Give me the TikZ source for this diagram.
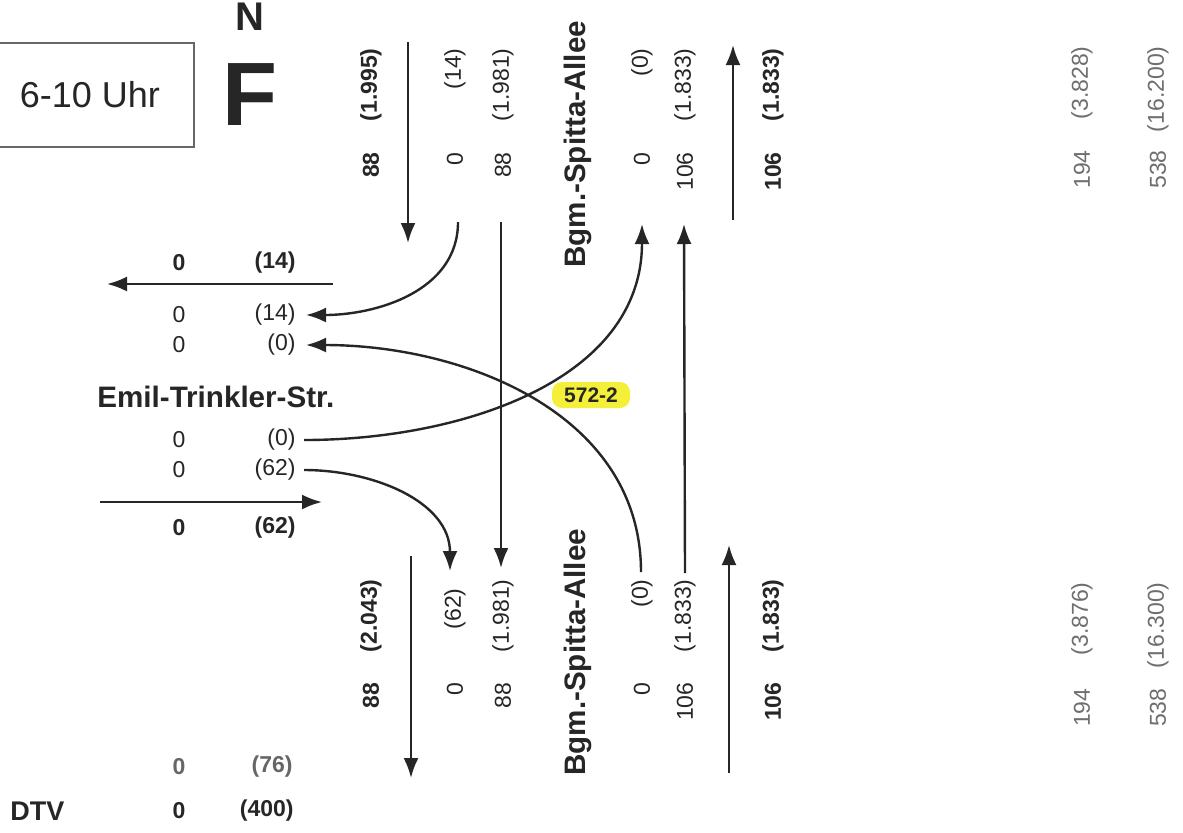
\documentclass[tikz,border=0pt]{standalone}
\usepackage{fontspec}
\setmainfont{Liberation Sans}
\usepackage{tikz}
\usepackage{xcolor}
\usetikzlibrary{arrows.meta}
\definecolor{ink}{HTML}{262626}
\definecolor{faint}{HTML}{6E6E6E}
\definecolor{marker}{HTML}{F4F03A}
\tikzset{num/.style={inner sep=0pt, text=ink, font=\fontsize{11.5}{13}\selectfont}}
\tikzset{numb/.style={inner sep=0pt, text=ink, font=\fontsize{11.5}{13}\selectfont\bfseries}}
\tikzset{pale/.style={inner sep=0pt, text=faint, font=\fontsize{11.5}{13}\selectfont}}
\tikzset{upw/.style={rotate=90, anchor=east}}
\tikzset{street/.style={inner sep=0pt, text=ink, font=\fontsize{14.8}{17}\selectfont\bfseries}}
\tikzset{flow/.style={draw=ink, line width=1.2pt, -{Latex[length=10pt,width=7.5pt]}}}

\begin{document}
\begin{tikzpicture}[x=0.5pt, y=-0.5pt]
                                \useasboundingbox (0,0) rectangle (1183,832);
                                \fill[white] (0,0) rectangle (1183,832);
                                \node[draw=ink!70, line width=0.7pt, minimum width=98pt, minimum height=52pt, inner sep=0pt, text=ink, font=\fontsize{18}{21}\selectfont] (zeit) at (96,95) {\hspace*{-6pt}6-10 Uhr};
                                \node[inner sep=0pt, text=ink, font=\fontsize{20}{24}\selectfont\bfseries] (nord) at (250,17) {N};
                                \node[inner sep=0pt, text=ink, font=\fontsize{45}{50}\selectfont\bfseries] (knoten) at (250,95) {F};
                                \node[numb, upw] (t1n) at (371,152) {88};
                                \node[numb, upw] (t1p) at (371,48) {(1.995)};
                                \node[num, upw] (t2n) at (455,152) {0};
                                \node[num, upw] (t2p) at (455,48) {(14)};
                                \node[num, upw] (t3n) at (503,152) {88};
                                \node[num, upw] (t3p) at (503,48) {(1.981)};
                                \node[num, upw] (t4n) at (642,152) {0};
                                \node[num, upw] (t4p) at (642,48) {(0)};
                                \node[num, upw] (t5n) at (685,152) {106};
                                \node[num, upw] (t5p) at (685,48) {(1.833)};
                                \node[numb, upw] (t6n) at (773,152) {106};
                                \node[numb, upw] (t6p) at (773,48) {(1.833)};
                                \node[street, rotate=90, anchor=west] (bgmn) at (578,268) {Bgm.-Spitta-Allee};
                                \node[numb, upw] (b1n) at (371,682) {88};
                                \node[numb, upw] (b1p) at (371,579) {(2.043)};
                                \node[num, upw] (b2n) at (455,682) {0};
                                \node[num, upw] (b2p) at (455,588) {(62)};
                                \node[num, upw] (b3n) at (503,682) {88};
                                \node[num, upw] (b3p) at (503,579) {(1.981)};
                                \node[num, upw] (b4n) at (642,682) {0};
                                \node[num, upw] (b4p) at (642,579) {(0)};
                                \node[num, upw] (b5n) at (685,682) {106};
                                \node[num, upw] (b5p) at (685,579) {(1.833)};
                                \node[numb, upw] (b6n) at (773,682) {106};
                                \node[numb, upw] (b6p) at (773,579) {(1.833)};
                                \node[street, rotate=90, anchor=west] (bgms) at (578,776) {Bgm.-Spitta-Allee};
                                \node[numb] (l1n) at (179,263) {0};
                                \node[numb, anchor=east] (l1p) at (296,263) {(14)};
                                \node[num] (l2n) at (179,315) {0};
                                \node[num, anchor=east] (l2p) at (296,315) {(14)};
                                \node[num] (l3n) at (179,345) {0};
                                \node[num, anchor=east] (l3p) at (296,345) {(0)};
                                \node[street, anchor=west] (emil) at (97,397) {Emil-Trinkler-Str.};
                                \node[num] (l4n) at (179,440) {0};
                                \node[num, anchor=east] (l4p) at (296,440) {(0)};
                                \node[num] (l5n) at (179,470) {0};
                                \node[num, anchor=east] (l5p) at (296,470) {(62)};
                                \node[numb] (l6n) at (179,528) {0};
                                \node[numb, anchor=east] (l6p) at (296,528) {(62)};
                                \node[numb, text=black!60] (l7n) at (179,767) {0};
                                \node[numb, text=black!60, anchor=east] (l7p) at (293,767) {(76)};
                                \node[inner sep=0pt, text=ink, font=\fontsize{13.5}{16}\selectfont\bfseries, anchor=west] (dtv) at (10,811) {DTV};
                                \node[numb] (l8n) at (179,811) {0};
                                \node[numb, anchor=east] (l8p) at (294,811) {(400)};
                                \node[fill=marker, rounded corners=5pt, minimum width=39pt, minimum height=13pt, inner sep=0pt, text=ink, font=\fontsize{10.5}{12}\selectfont\bfseries] (nr) at (591,395) {572-2};
                                \node[pale, upw] (r1n) at (1082,150) {194};
                                \node[pale, upw] (r1p) at (1082,46) {(3.828)};
                                \node[pale, upw] (r2n) at (1158,150) {538};
                                \node[pale, upw] (r2p) at (1158,46) {(16.200)};
                                \node[pale, upw] (r3n) at (1082,688) {194};
                                \node[pale, upw] (r3p) at (1082,582) {(3.876)};
                                \node[pale, upw] (r4n) at (1158,688) {538};
                                \node[pale, upw] (r4p) at (1158,582) {(16.300)};
                                \coordinate (c1s) at (458,222);
                                \coordinate (c2s) at (501,222);
                                \coordinate (c2e) at (501,568);
                                \coordinate (c3e) at (642,224);
                                \coordinate (c4s) at (641,572);
                                \coordinate (c5e) at (684,224);
                                \coordinate (c6e) at (450,571);
                                \coordinate (c7s) at (408,42);
                                \coordinate (c7e) at (408,243);
                                \coordinate (c8s) at (733,220);
                                \coordinate (c8e) at (733,45);
                                \coordinate (c9s) at (333,284);
                                \coordinate (c9e) at (107,284);
                                \coordinate (c10s) at (100,502);
                                \coordinate (c10e) at (322,502);
                                \coordinate (c11s) at (411,556);
                                \coordinate (c11e) at (411,778);
                                \coordinate (c12s) at (729,773);
                                \coordinate (c12e) at (729,545);
                                \draw[flow] (c7s) -- (c7e);
                                \draw[flow] (c8s) -- (c8e);
                                \draw[flow] (c9s) -- (c9e);
                                \draw[flow] (c10s) -- (c10e);
                                \draw[flow] (c11s) -- (c11e);
                                \draw[flow] (c12s) -- (c12e);
                                \draw[flow] (c2s) -- (c2e);
                                \draw[flow] ([yshift=3pt]b5p.east) -- (c5e);
                                \draw[flow] (c1s) to[out=-90, in=0] ([xshift=5pt]l2p.east);
                                \draw[flow] ([xshift=4pt]l4p.east) to[out=0, in=-90] (c3e);
                                \draw[flow] (c4s) to[out=90, in=0] ([xshift=5pt]l3p.east);
                                \draw[flow] ([xshift=4pt]l5p.east) to[out=0, in=90] (c6e);
                            \end{tikzpicture}
\end{document}
